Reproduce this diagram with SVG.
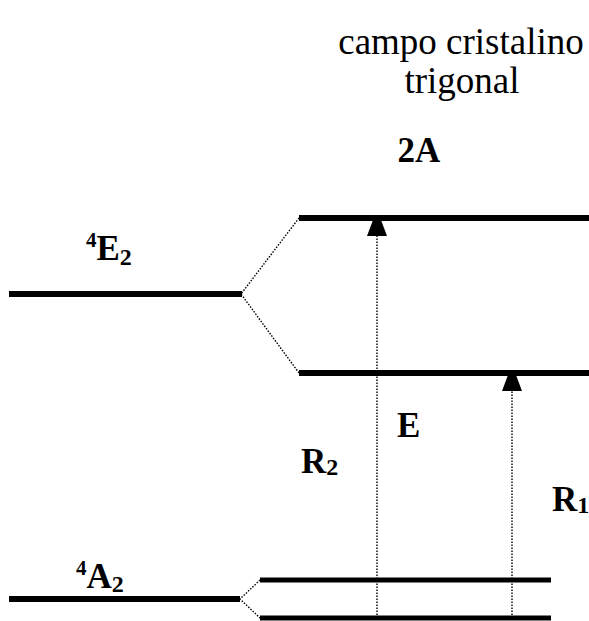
<svg xmlns="http://www.w3.org/2000/svg" width="589" height="621" viewBox="0 0 589 621">
  <style>
    .level { stroke: #000; stroke-width: 6; fill: none; }
    .level-thin { stroke: #000; stroke-width: 5; fill: none; }
    .dots { stroke: #000; stroke-width: 1.4; stroke-dasharray: 1.5 1.5; fill: none; }
    .title { font-family: "Liberation Serif", "Times New Roman", serif; font-size: 37px; fill: #000; }
    .label { font-family: "Liberation Serif", "Times New Roman", serif; font-weight: bold; font-size: 35px; fill: #000; }
    .sup { font-size: 21px; }
    .sub { font-size: 24px; }
  </style>
  <defs>
    <!-- blunt triangular head drawn along +x so orient="auto" follows the line -->
    <marker id="head" viewBox="0 0 16 20" refX="16" refY="10" markerWidth="16" markerHeight="20" markerUnits="userSpaceOnUse" orient="auto">
      <path d="M0,0 L16,6 L16,14 L0,20 Z" fill="#000"/>
    </marker>
  </defs>
  <rect width="589" height="621" fill="#fff"/>

  <!-- heading -->
  <g id="heading">
    <text class="title" font-family="Liberation Serif, Times New Roman, serif" x="461" y="54" text-anchor="middle">campo cristalino</text>
    <text class="title" font-family="Liberation Serif, Times New Roman, serif" x="462" y="93" text-anchor="middle">trigonal</text>
    <text class="label" x="419" y="162" text-anchor="middle">2A</text>
  </g>

  <!-- free-ion terms -->
  <g id="term-4E2">
    <line class="level" x1="9" y1="294" x2="242" y2="294"/>
    <text class="label" x="86" y="260"><tspan class="sup" dy="-13">4</tspan><tspan dy="13">E</tspan><tspan class="sub" dy="5">2</tspan></text>
  </g>
  <g id="term-4A2">
    <line class="level" x1="9" y1="599" x2="240" y2="599"/>
    <text class="label" x="76" y="588"><tspan class="sup" dy="-13">4</tspan><tspan dy="13">A</tspan><tspan class="sub" dy="4">2</tspan></text>
  </g>

  <!-- trigonal components -->
  <g id="level-2A">
    <line class="level" x1="299" y1="218" x2="589" y2="218"/>
  </g>
  <g id="level-E">
    <line class="level" x1="299" y1="373" x2="589" y2="373"/>
  </g>
  <g id="ground-upper">
    <line class="level-thin" x1="260" y1="580" x2="551" y2="580"/>
  </g>
  <g id="ground-lower">
    <line class="level-thin" x1="260" y1="618" x2="551" y2="618"/>
  </g>

  <!-- splitting and transition lines -->
  <g id="connectors">
    <polyline class="dots" points="299,218 241,294 299,373"/>
    <polyline class="dots" points="260,580 240,599 260,618"/>
    <line class="dots" x1="377" y1="618" x2="377" y2="220" marker-end="url(#head)"/>
    <line class="dots" x1="512" y1="618" x2="512" y2="375" marker-end="url(#head)"/>
  </g>

  <!-- transition labels -->
  <g id="labels">
    <text class="label" x="397" y="437">E</text>
    <text class="label" x="301" y="473">R<tspan class="sub" dy="2">2</tspan></text>
    <text class="label" x="552" y="511">R<tspan class="sub" dy="2">1</tspan></text>
  </g>
</svg>
